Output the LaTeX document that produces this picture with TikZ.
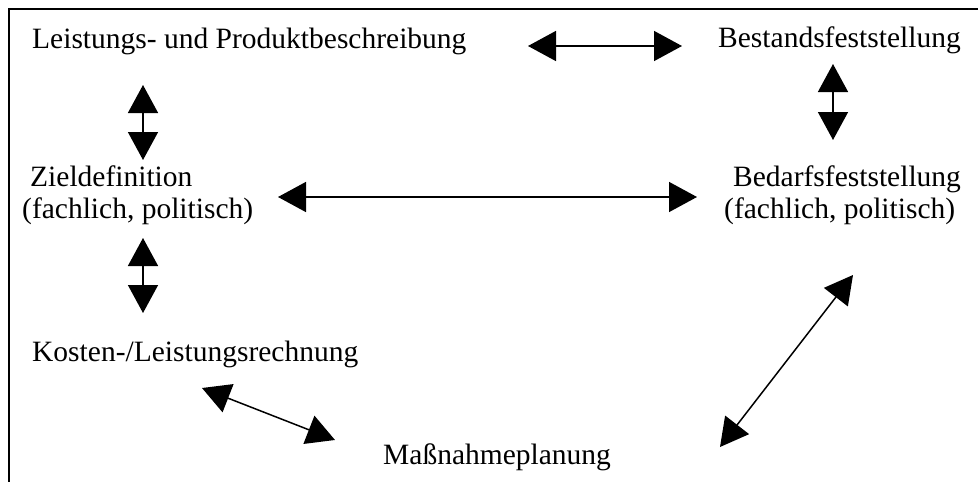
\documentclass[tikz,border=0pt]{standalone}
\usepackage{fontspec}
\setmainfont{Liberation Serif}
\usetikzlibrary{arrows.meta}
\begin{document}
\begin{tikzpicture}[x=1pt,y=-1pt,
  lbl/.style={inner sep=0pt, font=\fontsize{29.5}{32}\selectfont},
  dbl/.style={line width=1.5pt, {Triangle[length=28pt,width=30pt]}-{Triangle[length=28pt,width=30pt]}},
  frame/.style={line width=2pt}]
\useasboundingbox (0,0) rectangle (978,482);
\draw[frame] (9,482) -- (9,9) -- (978,9);
% texts
\node[lbl, anchor=base west] (lp) at (32,48) {Leistungs- und Produktbeschreibung};
\node[lbl, anchor=base west] (bf) at (718,47) {Bestandsfeststellung};
\node[lbl, anchor=base west, align=left] (zd) at (22,218) {\hspace*{8pt}Zieldefinition\\(fachlich, politisch)};
\node[lbl, anchor=base west, align=left] (bd) at (724,218) {\hspace*{9pt}Bedarfsfeststellung\\(fachlich, politisch)};
\node[lbl, anchor=base west] (kl) at (32,361) {Kosten-/Leistungsrechnung};
\node[lbl, anchor=base west] (mp) at (383,464) {Maßnahmeplanung};
% arrow end points
\coordinate (a1) at (528,46);  \coordinate (a2) at (682,46);
\coordinate (b1) at (143,85);  \coordinate (b2) at (143,160);
\coordinate (c1) at (833,64);  \coordinate (c2) at (833,140);
\coordinate (d1) at (278,197); \coordinate (d2) at (697,197);
\coordinate (e1) at (143,238); \coordinate (e2) at (143,313);
\coordinate (f1) at (202,388); \coordinate (f2) at (335,440);
\coordinate (g1) at (853,275); \coordinate (g2) at (720,447);
% arrows
\draw[dbl] (a1) -- (a2);
\draw[dbl] (b1) -- (b2);
\draw[dbl] (c1) -- (c2);
\draw[dbl] (d1) -- (d2);
\draw[dbl] (e1) -- (e2);
\draw[dbl] (f1) -- (f2);
\draw[dbl] (g1) -- (g2);
\end{tikzpicture}
\end{document}
